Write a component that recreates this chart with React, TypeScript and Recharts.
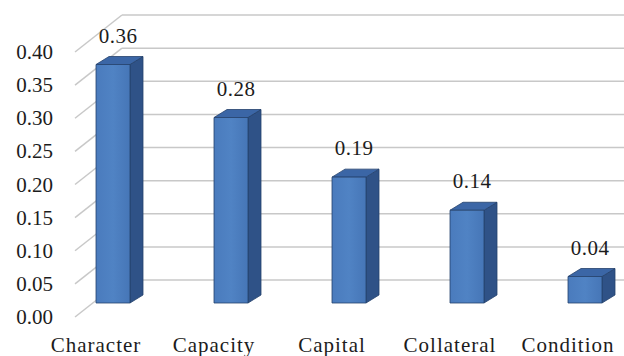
import { BarChart, Bar, XAxis, YAxis, CartesianGrid, LabelList } from "recharts";

const categories = ["Character", "Capacity", "Capital", "Collateral", "Condition"];
const weights = [0.36, 0.28, 0.19, 0.14, 0.04];
const yTicks = [0, 0.05, 0.1, 0.15, 0.2, 0.25, 0.3, 0.35, 0.4];

const data = categories.map((name, i) => ({ name, weight: weights[i] }));

// depth of each column and of the floor/back wall
const BAR_DX = 13;
const BAR_DY = 8;
const FRONT_DY = 14;
const BACK_DY = -23;
const TEXT_STYLE = {
  fontFamily:
    '"Liberation Serif", "DejaVu Serif", "Noto Serif", Tinos, FreeSerif, "Times New Roman", Times, serif',
  fontSize: 21,
};
const TEXT = "#1c1c1c";
const GRID = "#c8c8c8";

function Column(props: any) {
  const { x, y, width, height } = props;
  if (height <= 0) return null;
  const r = x + width;
  const b = y + height;
  return (
    <g stroke="#24416c" strokeWidth={0.8} strokeLinejoin="round">
      <polygon
        points={`${r},${y} ${r + BAR_DX},${y - BAR_DY} ${r + BAR_DX},${b - BAR_DY} ${r},${b}`}
        fill="#2f5287"
      />
      <polygon
        points={`${x},${y} ${x + BAR_DX},${y - BAR_DY} ${r + BAR_DX},${y - BAR_DY} ${r},${y}`}
        fill="#3b66a6"
      />
      <rect x={x} y={y} width={width} height={height} fill="url(#frontFace)" />
    </g>
  );
}

function GridLine(props: any) {
  const { x1, x2, y1, index } = props;
  const fx = x1 + 21;
  const bx = x1 + 68;
  return (
    <g key={`grid-${index}`} stroke={GRID} strokeWidth={1.5}>
      <line x1={fx} y1={y1 + FRONT_DY} x2={bx} y2={y1 + BACK_DY} />
      <line x1={bx} y1={y1 + BACK_DY} x2={x2} y2={y1 + BACK_DY} />
    </g>
  );
}

function ValueTick(props: any) {
  const { x, y, payload } = props;
  return (
    <text
      x={x - 1}
      y={y + FRONT_DY}
      textAnchor="end"
      dominantBaseline="central"
      style={TEXT_STYLE}
      fill={TEXT}
    >
      {Number(payload.value).toFixed(2)}
    </text>
  );
}

function CategoryTick(props: any) {
  const { x, y, payload } = props;
  return (
    <text
      x={x - 17}
      y={y + 49}
      textAnchor="middle"
      style={{ ...TEXT_STYLE, letterSpacing: 1 }}
      fill={TEXT}
    >
      {payload.value}
    </text>
  );
}

function ValueLabel(props: any) {
  const { x, y, width, value } = props;
  return (
    <text
      x={x + width / 2 + 5}
      y={y - 22}
      textAnchor="middle"
      style={{ ...TEXT_STYLE, letterSpacing: 0.5 }}
      fill={TEXT}
    >
      {Number(value).toFixed(2)}
    </text>
  );
}

export default function App() {
  return (
    <div
      style={{
        position: "absolute",
        left: 0,
        top: 0,
        width: 624,
        height: 356,
        overflow: "hidden",
        background: "#ffffff",
      }}
    >
      <BarChart
        width={644}
        height={356}
        data={data}
        margin={{ top: 38, right: 0, bottom: 23, left: 0 }}
      >
        <defs>
          <linearGradient id="frontFace" x1="0" y1="0" x2="1" y2="0">
            <stop offset="0%" stopColor="#4a7bbd" />
            <stop offset="50%" stopColor="#5083c4" />
            <stop offset="100%" stopColor="#4676b7" />
          </linearGradient>
        </defs>
        <CartesianGrid vertical={false} horizontal={GridLine} />
        <XAxis
          dataKey="name"
          height={30}
          axisLine={false}
          tickLine={false}
          tickSize={0}
          tickMargin={0}
          interval={0}
          tick={CategoryTick}
        />
        <YAxis
          type="number"
          domain={[0, 0.4]}
          ticks={yTicks}
          width={54}
          axisLine={false}
          tickLine={false}
          tickSize={0}
          tickMargin={0}
          interval={0}
          tick={ValueTick}
        />
        <Bar dataKey="weight" barSize={34} shape={Column} isAnimationActive={false}>
          <LabelList dataKey="weight" content={ValueLabel} />
        </Bar>
      </BarChart>
    </div>
  );
}
